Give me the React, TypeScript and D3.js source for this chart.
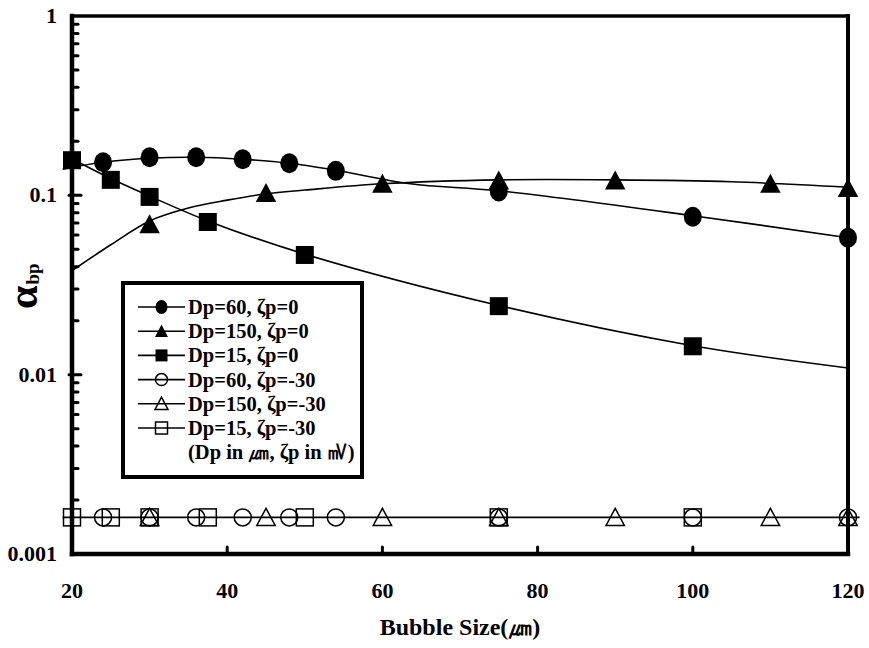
import React from "react";
import * as d3 from "d3";

// bubble sizes (um) and attachment efficiencies
const circleX = [24, 30, 36, 42, 48, 54, 75, 100, 120];
const circleY = [0.153, 0.163, 0.163, 0.159, 0.151, 0.137, 0.105, 0.076, 0.058];

const triangleX = [30, 45, 60, 75, 90, 110, 120];
const triangleY = [0.069, 0.103, 0.116, 0.121, 0.121, 0.116, 0.11];

const squareX = [20, 25, 30, 37.5, 50, 75, 100];
const squareY = [0.157, 0.122, 0.098, 0.071, 0.0465, 0.0241, 0.0144];

// zeta = -30 mV series all sit on the same floor value
const floorValue = 0.0016;

// trend curves as drawn in the figure
const circleFitX = [18.8, 24, 30, 36, 42, 48, 54, 63.6, 75, 100, 120];
const circleFitY = [0.14, 0.153, 0.161, 0.163, 0.159, 0.151, 0.138, 0.116, 0.106, 0.077, 0.058];
const triangleFitX = [20, 25, 30, 35, 40, 45, 50, 60, 75, 90, 105, 120];
const triangleFitY = [0.038, 0.053, 0.072, 0.085, 0.094, 0.102, 0.107, 0.116, 0.122, 0.122, 0.119, 0.111];
const squareFitX = [20, 25, 30, 37.5, 50, 75, 100, 120];
const squareFitY = [0.16, 0.124, 0.099, 0.072, 0.047, 0.0243, 0.0145, 0.0109];
const floorFitX = [18.8, 121.5];

const xTicks = [20, 40, 60, 80, 100, 120];
const yTicks = [1, 0.1, 0.01, 0.001];
const yTickLabels = ["1", "0.1", "0.01", "0.001"];

const legendLabels = [
  "Dp=60, ζp=0",
  "Dp=150, ζp=0",
  "Dp=15, ζp=0",
  "Dp=60, ζp=-30",
  "Dp=150, ζp=-30",
  "Dp=15, ζp=-30",
];
const legendShapes = ["circle", "triangle", "square", "circle", "triangle", "square"];
const legendFilled = [true, true, true, false, false, false];
const legendNote = "(Dp in ㎛, ζp in ㎷)";

const W = 869;
const H = 648;
const left = 72, right = 848, top = 16, bottom = 554;
const serif = { fontFamily: "Liberation Serif, DejaVu Serif, serif", fontWeight: 700 };

const x = d3.scaleLinear().domain([20, 120]).range([left, right]);
const y = d3.scaleLog().domain([0.001, 1]).range([bottom, top]);

const Marker = ({ shape, filled, cx, cy, s }) => {
  const fill = filled ? "#000" : "none";
  const sw = filled ? 0 : 1.5;
  if (shape === "circle") {
    return filled
      ? <ellipse cx={cx} cy={cy} rx={s / 2} ry={s / 2 + 1} fill="#000" />
      : <circle cx={cx} cy={cy} r={s / 2} fill="none" stroke="#000" strokeWidth={sw} />;
  }
  if (shape === "square") {
    return <rect x={cx - s / 2} y={cy - s / 2} width={s} height={s} fill={fill} stroke="#000" strokeWidth={sw} />;
  }
  const h = s * 0.95;
  const w = s * 1.08;
  const pts = `${cx},${cy - h / 2 - 1} ${cx + w / 2},${cy + h / 2} ${cx - w / 2},${cy + h / 2}`;
  return <polygon points={pts} fill={fill} stroke="#000" strokeWidth={sw} strokeLinejoin="miter" />;
};

const App = () => {
  const curve = d3.line().x((d) => x(d[0])).y((d) => y(d[1])).curve(d3.curveCatmullRom.alpha(0.5));
  const zip = (xs, ys) => xs.map((v, i) => [v, ys[i]]);

  // minor ticks 2..9 per decade
  const minor = [];
  [0.001, 0.01, 0.1].forEach((base) => {
    for (let k = 2; k <= 9; k++) minor.push(base * k);
  });

  const legendRowY = (i) => 307 + i * 24.2;

  return (
    <div style={{ position: "absolute", left: 0, top: 0 }}>
      <svg width={W} height={H} style={{ display: "block", background: "#fff" }}>
        {/* trend lines */}
        <g fill="none" stroke="#000" strokeWidth={1.6}>
          <path d={curve(zip(circleFitX, circleFitY))} />
          <path d={curve(zip(triangleFitX, triangleFitY))} />
          <path d={curve(zip(squareFitX, squareFitY))} />
          <path d={curve(floorFitX.map((v) => [v, floorValue]))} />
        </g>

        {/* frame */}
        <g stroke="#000" fill="none" strokeLinecap="square">
          <line x1={left} y1={top} x2={right} y2={top} strokeWidth={3.5} />
          <line x1={right} y1={top} x2={right} y2={bottom} strokeWidth={4} />
          <line x1={left} y1={top} x2={left} y2={bottom} strokeWidth={4.5} />
          <line x1={left} y1={bottom} x2={right} y2={bottom} strokeWidth={4.5} />
        </g>

        {/* y ticks */}
        <g stroke="#000" strokeWidth={3} strokeLinecap="round">
          {minor.map((v, i) => (
            <line key={i} x1={left} x2={left + 6} y1={y(v)} y2={y(v)} />
          ))}
          {[0.1, 0.01].map((v, i) => (
            <line key={"M" + i} x1={left - 3} x2={left + 9} y1={y(v)} y2={y(v)} />
          ))}
        </g>
        {/* x ticks */}
        <g stroke="#000" strokeWidth={3} strokeLinecap="round">
          {xTicks.slice(1, -1).map((v, i) => (
            <line key={i} x1={x(v)} x2={x(v)} y1={bottom} y2={bottom - 7} />
          ))}
        </g>

        {/* markers */}
        {squareX.map((v, i) => (
          <Marker key={"sf" + i} shape="square" filled cx={x(v)} cy={y(squareY[i])} s={18} />
        ))}
        {triangleX.map((v, i) => (
          <Marker key={"tf" + i} shape="triangle" filled cx={x(v)} cy={y(triangleY[i])} s={19} />
        ))}
        {circleX.map((v, i) => (
          <Marker key={"cf" + i} shape="circle" filled cx={x(v)} cy={y(circleY[i])} s={18} />
        ))}
        {squareX.map((v, i) => (
          <Marker key={"so" + i} shape="square" filled={false} cx={x(v)} cy={y(floorValue)} s={17} />
        ))}
        {circleX.map((v, i) => (
          <Marker key={"co" + i} shape="circle" filled={false} cx={x(v)} cy={y(floorValue)} s={17} />
        ))}
        {triangleX.map((v, i) => (
          <Marker key={"to" + i} shape="triangle" filled={false} cx={x(v)} cy={y(floorValue)} s={17} />
        ))}

        {/* tick labels */}
        <g style={{ ...serif, fontSize: 22 }} fill="#000">
          {yTicks.map((v, i) => (
            <text key={i} x={left - 15} y={y(v) + 7} textAnchor="end">{yTickLabels[i]}</text>
          ))}
          {xTicks.map((v, i) => (
            <text key={i} x={x(v)} y={598} textAnchor="middle">{v}</text>
          ))}
        </g>

        {/* axis titles */}
        <text x={(left + right) / 2} y={635} textAnchor="middle" style={{ ...serif, fontSize: 24 }}>
          Bubble Size(㎛)
        </text>
        <text transform="translate(37,309) rotate(-90)" style={serif}>
          <tspan style={{ fontSize: 42 }}>α</tspan>
          <tspan style={{ fontSize: 19 }} dy={2} dx={1}>bp</tspan>
        </text>

        {/* legend */}
        <rect x={123} y={283} width={239} height={194} fill="#fff" stroke="#000" strokeWidth={4} />
        {legendLabels.map((lab, i) => (
          <g key={i}>
            <line x1={138} x2={185} y1={legendRowY(i)} y2={legendRowY(i)} stroke="#000" strokeWidth={1.6} />
            <Marker shape={legendShapes[i]} filled={legendFilled[i]} cx={161.5} cy={legendRowY(i)} s={12} />
            <text x={188} y={legendRowY(i) + 7} style={{ ...serif, fontSize: 20.5 }}>{lab}</text>
          </g>
        ))}
        <text x={188} y={legendRowY(6) + 7} style={{ ...serif, fontSize: 20.5 }}>{legendNote}</text>
      </svg>
    </div>
  );
};

export default App;
